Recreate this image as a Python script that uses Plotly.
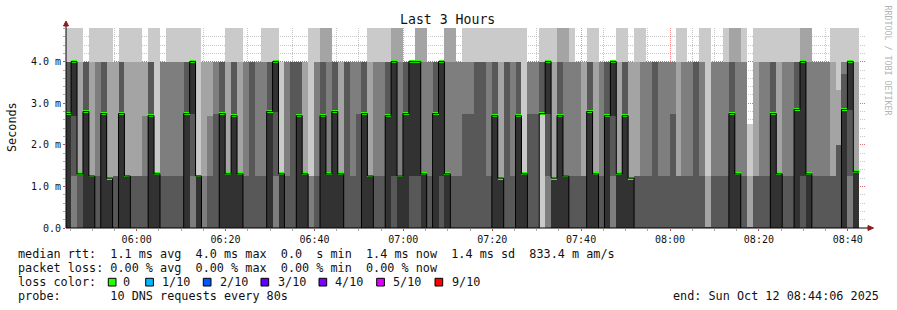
import pandas as pd
import plotly.graph_objects as go

# ---------------- data ----------------
step_start = "2025-10-12 05:43:55"      # first (partly visible) 80 s step
step_seconds = 80
T = 6.0                                  # a ping slower than the top of the axis

# sorted round-trip times (ms) of the 10 DNS requests of every step
pings = [
    [0, 0, 0, 0, 0, 2.75, 4, 4, 4, T],
    [0, 0, 0, 1.25, 2.7, 4, 4, 4, 4, T],
    [0, 0, 0, 0, 1.3, 1.3, 1.3, 1.3, 4, T],
    [0, 0, 0, 0, 0, 2.8, 4, 4, 4, 4],
    [0, 0, 0, 0, 0, 1.25, 1.25, 1.25, 4, T],
    [0, 0, 0, 0, 0, 0, 1.25, 4, 4, T],
    [0, 0, 0, 0, 0, 2.75, 4, 4, 4, T],
    [0, 0, 0, 0, 0, 1.2, 1.2, 1.2, 4, T],
    [0, 0, 0, 0, 0, 0, 1.25, 1.25, 4, 4],
    [0, 0, 0, 0, 0, 2.75, 4, 4, 4, T],
    [0, 0, 0, 0, 0, 1.25, 1.25, 1.25, 4, T],
    [0, 0, 0, 0, 0, 0, 1.25, 1.25, 4, T],
    [0, 0, 0, 0, 0, 0, 1.25, 1.25, 4, T],
    [0, 0, 0, 0, 0, 0, 1.25, 2.7, 4, 4],
    [0, 0, 0, 0, 0, 2.7, 4, 4, 4, T],
    [0, 0, 0, 0, 0, 1.3, 1.3, 1.3, 1.3, T],
    [0, 0, 0, 0, 0, 0, 1.25, 4, 4, 4],
    [0, 0, 0, 0, 0, 0, 1.25, 4, 4, T],
    [0, 0, 0, 0, 0, 0, 1.25, 4, 4, T],
    [0, 0, 0, 0, 0, 0, 1.25, 4, 4, T],
    [0, 0, 0, 0, 0, 2.75, 4, 4, 4, T],
    [0, 0, 0, 1.25, 2.75, 4, 4, 4, 4, T],
    [0, 0, 0, 0, 0, 1.25, 1.25, 1.25, 1.25, T],
    [0, 0, 0, 0, 0, 0, 0, 1.25, 4, 4],
    [0, 0, 0, 0, 0, 0, 1.25, 2.7, 4, 4],
    [0, 0, 0, 0, 0, 0, 2.75, 4, 4, 4],
    [0, 0, 0, 0, 0, 2.75, 4, 4, 4, 4],
    [0, 0, 0, 0, 0, 1.3, 1.3, 1.3, 4, T],
    [0, 0, 0, 0, 0, 2.7, 4, 4, 4, T],
    [0, 0, 0, 0, 0, 1.3, 1.3, 1.3, 4, T],
    [0, 0, 0, 0, 0, 0, 1.25, 4, 4, 4],
    [0, 0, 0, 0, 0, 0, 4, 4, 4, 4],
    [0, 0, 0, 0, 0, 0, 1.25, 4, 4, 4],
    [0, 0, 0, 0, 0, 0, 1.25, 4, 4, T],
    [0, 0, 0, 0, 0, 2.8, 4, 4, 4, T],
    [0, 0, 0, 1.25, 2.8, 4, 4, 4, 4, T],
    [0, 0, 0, 0, 0, 1.3, 1.3, 1.3, 1.3, 4],
    [0, 0, 0, 0, 0, 0, 1.25, 4, 4, 4],
    [0, 0, 0, 0, 0, 0, 4, 4, 4, 4],
    [0, 0, 0, 0, 0, 2.7, 4, 4, 4, 4],
    [0, 0, 0, 0, 0, 1.3, 1.3, 1.3, 4, 4],
    [0, 0, 0, 0, 0, 0, 0, 1.25, 1.25, T],
    [0, 0, 0, 0, 0, 0, 1.25, 4, 4, T],
    [0, 0, 0, 0, 0, 2.7, 4, 4, T, T],
    [0, 0, 0, 0, 0, 1.3, 1.3, 4, T, T],
    [0, 0, 0, 0, 0, 2.8, 4, 4, 4, 4],
    [0, 0, 0, 0, 0, 1.3, 1.3, 1.3, 4, 4],
    [0, 0, 0, 0, 0, 0, 4, 4, 4, 4],
    [0, 0, 0, 0, 0, 0, 1.25, 4, 4, 4],
    [0, 0, 0, 0, 0, 0, 2.75, 4, 4, 4],
    [0, 0, 0, 0, 0, 2.75, 4, 4, 4, 4],
    [0, 0, 0, 0, 0, 1.25, 1.25, 1.25, 4, T],
    [0, 0, 0, 0, 0, 0, 1.25, 4, 4, T],
    [0, 0, 0, 0, 0, 0, 1.25, 4, 4, T],
    [0, 0, 0, 0, 0, 2.7, 4, 4, 4, T],
    [0, 0, 0, 0, 1.25, 4, 4, 4, T, T],
    [0, 0, 0, 0, 0, 1.25, 1.25, 4, T, T],
    [0, 0, 0, 0, 0, 2.75, 4, 4, 4, 4],
    [0, 0, 0, 0, 1.25, 4, 4, 4, 4, 4],
    [0, 0, 0, 0, 1.25, 4, 4, 4, T, T],
    [0, 0, 0, 0, 0, 1.3, 1.3, 4, T, T],
    [0, 0, 0, 0, 0, 0, 1.25, 4, 4, 4],
    [0, 0, 0, 0, 0, 2.75, 4, 4, 4, 4],
    [0, 0, 0, 0, 1.25, 4, 4, 4, 4, 4],
    [0, 0, 0, 0, 0, 1.3, 1.3, 4, T, T],
    [0, 0, 0, 0, 0, 0, 1.25, 4, T, T],
    [0, 0, 0, 0, 0, 0, 1.25, 4, 4, 4],
    [0, 0, 0, 0, 0, 0, 2.75, 4, 4, T],
    [0, 0, 0, 0, 0, 0, 2.75, 4, 4, T],
    [0, 0, 0, 0, 0, 0, 4, 4, 4, T],
    [0, 0, 0, 0, 0, 0, 4, 4, 4, T],
    [0, 0, 0, 0, 0, 0, 1.25, 4, 4, T],
    [0, 0, 0, 0, 0, 2.7, 4, 4, 4, T],
    [0, 0, 0, 0, 0, 1.2, 1.2, 1.2, 4, T],
    [0, 0, 0, 0, 0, 0, 4, 4, 4, T],
    [0, 0, 0, 0, 0, 0, 1.25, 4, 4, T],
    [0, 0, 0, 0, 0, 2.7, 4, 4, 4, T],
    [0, 0, 0, 0, 0, 1.3, 1.3, 1.3, 1.3, T],
    [0, 0, 0, 0, 0, 0, 2.75, 4, 4, 4],
    [0, 0, 0, 0, 0, 0, 2.75, 4, 4, 4],
    [0, 2.75, 2.75, 2.75, 2.75, 2.75, 4, 4, 4, T],
    [0, 0, 0, 1.25, 2.75, 4, 4, 4, 4, T],
    [0, 0, 0, 0, 0, 1.2, 1.2, 1.2, 4, T],
    [0, 0, 0, 0, 0, 2.7, 4, 4, T, T],
    [0, 0, 0, 0, 0, 1.25, 1.25, 4, T, T],
    [0, 0, 0, 0, 0, 0, 1.25, 4, 4, T],
    [0, 0, 0, 0, 0, 0, 1.25, 4, 4, 4],
    [0, 0, 0, 0, 0, 0, 1.25, 1.25, 4, 4],
    [0, 0, 0, 0, 0, 2.8, 4, 4, 4, T],
    [0, 0, 0, 0, 0, 1.3, 1.3, 1.3, 4, T],
    [0, 0, 0, 0, 0, 0, 1.25, 4, 4, 4],
    [0, 0, 0, 0, 0, 2.7, 4, 4, 4, 4],
    [0, 0, 0, 1.25, 2.7, 4, 4, 4, 4, 4],
    [0, 0, 0, 0, 0, 1.3, 1.3, 1.3, 4, T],
    [0, 0, 0, 0, 0, 2.7, 4, 4, 4, T],
    [0, 0, 0, 0, 0, 1.2, 1.2, 1.2, 4, 4],
    [0, 0, 0, 0, 0, 0, 1.25, 1.25, 4, T],
    [0, 0, 0, 0, 0, 0, 1.25, 4, 4, T],
    [0, 0, 0, 0, 0, 0, 1.25, 4, 4, 4],
    [0, 0, 0, 0, 0, 0, 4, 4, 4, 4],
    [0, 0, 0, 0, 0, 0, 1.25, 4, 4, 4],
    [0, 0, 0, 0, 0, 0, 1.25, 4, 4, 4],
    [0, 0, 0, 0, 0, 0, 2.75, 4, 4, 4],
    [0, 0, 0, 0, 0, 0, 1.25, 1.25, 4, T],
    [0, 0, 0, 0, 0, 0, 1.25, 4, 4, T],
    [0, 0, 0, 0, 0, 0, 1.25, 4, 4, 4],
    [0, 0, 0, 0, 0, 0, 4, 4, 4, 4],
    [0, 0, 0, 0, 0, 0, 1.25, 4, 4, T],
    [0, 0, 0, 0, 0, 0, 0, 0, 1.25, T],
    [0, 0, 0, 0, 0, 0, 1.25, 4, 4, 4],
    [0, 0, 0, 0, 0, 0, 1.25, 4, 4, 4],
    [0, 0, 0, 0, 0, 0, 1.25, 4, 4, T],
    [0, 0, 0, 0, 0, 2.75, 4, 4, T, T],
    [0, 0, 0, 0, 0, 1.3, 1.3, 4, T, T],
    [0, 0, 0, 0, 0, 0, 1.25, 4, 4, T],
    [0, 0, 0, 0, 0, 0, 0, 0, 1.25, 2.5],
    [0, 0, 0, 0, 0, 0, 1.25, 1.25, 4, T],
    [0, 0, 0, 0, 0, 0, 1.25, 4, 4, T],
    [0, 0, 0, 0, 0, 0, 1.25, 4, 4, T],
    [0, 0, 0, 0, 0, 2.75, 4, 4, 4, T],
    [0, 0, 0, 0, 0, 1.3, 1.3, 1.3, 4, T],
    [0, 0, 0, 0, 0, 0, 1.25, 4, 4, T],
    [0, 0, 0, 0, 0, 0, 1.25, 4, 4, T],
    [0, 0, 0, 0, 0, 2.85, 4, 4, 4, T],
    [0, 0, 0, 0, 1.25, 4, 4, 4, T, T],
    [0, 0, 0, 0, 0, 1.3, 1.3, 4, T, T],
    [0, 0, 0, 0, 0, 0, 1.25, 4, 4, 4],
    [0, 0, 0, 0, 0, 0, 1.25, 4, 4, 4],
    [0, 0, 0, 0, 0, 0, 1.25, 4, 4, 4],
    [0, 0, 0, 0, 0, 0, 1.25, 1.25, 4, T],
    [0, 0, 0, 0, 0, 0, 2.0, 2.0, 3.33, T],
    [0, 0, 0, 0, 0, 2.85, 3.7, 4, 4, T],
    [0, 0, 0, 1.25, 2.85, 4, 4, 4, 4, T],
    [0, 0, 0, 0, 0, 1.35, 1.35, 1.35, 4, T],
]

x_range = ["2025-10-12 05:44:06", "2025-10-12 08:44:06"]
y_max = 4.81
y_tickvals = [0, 1, 2, 3, 4]
y_ticktext = ["0.0", "1.0 m", "2.0 m", "3.0 m", "4.0 m"]

legend_lines = [
    "median rtt:  1.1 ms avg  4.0 ms max  0.0  s min  1.4 ms now  1.4 ms sd  833.4 m am/s",
    "packet loss: 0.00 % avg  0.00 % max  0.00 % min  0.00 % now",
]
loss_labels = ["0", "1/10", "2/10", "3/10", "4/10", "5/10", "9/10"]
loss_colors = ["#26ff00", "#00b8ff", "#0059ff", "#5e00ff", "#7e00ff", "#dd00ff", "#ff0000"]
probe_text = "probe:       10 DNS requests every 80s"
end_text = "end: Sun Oct 12 08:44:06 2025"
title_text = "Last 3 Hours"

# smoke shades, outermost pair of pings -> innermost pair
smoke_colors = ["#cacaca", "#a4a4a4", "#7e7e7e", "#585858", "#323232"]

# ---------------- figure ----------------
W, H = 897, 310
L, R, TOP, BOT = 66, 866, 28, 228   # plot area in pixels


def px(x):
    return (x - L) / (R - L)


def py(y):
    return (BOT - y) / (BOT - TOP)


n = len(pings)
starts = pd.date_range(step_start, periods=n + 1, freq=f"{step_seconds}s")
centers = starts[:-1] + pd.Timedelta(seconds=step_seconds / 2)
width_ms = step_seconds * 1000
median = [p[5] for p in pings]

fig = go.Figure()
for i, col in enumerate(smoke_colors):
    base = [p[i] for p in pings]
    top = [p[9 - i] for p in pings]
    fig.add_trace(go.Bar(
        x=centers, base=base, y=[t - b for t, b in zip(top, base)],
        width=width_ms, marker=dict(color=col, line=dict(width=0)),
        hoverinfo="skip", showlegend=False))

fig.add_trace(go.Scatter(
    x=list(starts), y=median + [median[-1]], mode="lines",
    line=dict(color="#000000", width=1, shape="hv"),
    hoverinfo="skip", showlegend=False))

mh = 0.07
fig.add_trace(go.Bar(
    x=centers, base=[m - mh / 2 for m in median], y=[mh] * n,
    width=width_ms, marker=dict(color=loss_colors[0], line=dict(width=0)),
    hoverinfo="skip", showlegend=False))

mono = "DejaVu Sans Mono"
fig.update_layout(
    width=W, height=H, margin=dict(l=L, r=W - R, t=TOP, b=H - BOT),
    paper_bgcolor="white", plot_bgcolor="white",
    barmode="overlay", bargap=0, showlegend=False,
    font=dict(family=mono, size=10, color="#111111"),
    xaxis=dict(
        type="date", range=x_range, tick0="2025-10-12 06:00:00", dtick=20 * 60 * 1000,
        tickformat="%H:%M", showgrid=True, gridcolor="rgba(255,0,0,0.45)",
        griddash="1px,1px", gridwidth=1, zeroline=False, showline=False,
        ticks="outside", ticklen=2, tickcolor="#c05050",
        minor=dict(dtick=5 * 60 * 1000, showgrid=True, gridcolor="rgba(175,175,175,0.7)",
                   griddash="1px,1px", ticks="outside", ticklen=2, tickcolor="#aaaaaa"),
        layer="above traces", fixedrange=True,
        tickfont=dict(family=mono, size=10, color="#111111"),
    ),
    yaxis=dict(
        range=[0, y_max], tickvals=y_tickvals, ticktext=y_ticktext,
        showgrid=True, gridcolor="rgba(255,0,0,0.45)", griddash="1px,1px",
        zeroline=False, showline=False, ticks="outside", ticklen=2, tickcolor="#c05050",
        minor=dict(dtick=0.2, showgrid=True, gridcolor="rgba(175,175,175,0.7)",
                   griddash="1px,1px", ticks="outside", ticklen=2, tickcolor="#aaaaaa"),
        layer="above traces", fixedrange=True,
        tickfont=dict(family=mono, size=10, color="#111111"),
    ),
)

shapes = [
    # axes with arrow heads
    dict(type="line", xref="paper", yref="paper", x0=px(66), x1=px(869), y0=0, y1=0,
         line=dict(color="#000000", width=1)),
    dict(type="line", xref="paper", yref="paper", x0=0, x1=0, y0=0, y1=py(25),
         line=dict(color="#000000", width=1)),
    dict(type="path", xref="paper", yref="paper",
         path=f"M {px(868)} {py(225.5)} L {px(873.5)} {py(228)} L {px(868)} {py(230.5)} Z",
         fillcolor="#8b1c1c", line=dict(color="#8b1c1c", width=1)),
    dict(type="path", xref="paper", yref="paper",
         path=f"M {px(63.5)} {py(26)} L {px(66)} {py(21)} L {px(68.5)} {py(26)} Z",
         fillcolor="#8b1c1c", line=dict(color="#8b1c1c", width=1)),
]
box_x = [108.3, 145.7, 203.3, 261.0, 319.0, 376.7, 435.0]
label_x = [120.7, 160.0, 218.3, 276.0, 333.3, 391.0, 450.0]
for bx, c in zip(box_x, loss_colors):
    shapes.append(dict(type="rect", xref="paper", yref="paper",
                       x0=px(bx), x1=px(bx + 7.7), y0=py(286), y1=py(278.3),
                       fillcolor=c, line=dict(color="#000000", width=1)))

ann = []


def text(x, y, s, size=11.8, anchor="left", color="#111111", angle=0):
    ann.append(dict(x=px(x), y=py(y), xref="paper", yref="paper", text=s,
                    showarrow=False, xanchor=anchor, yanchor="middle", textangle=angle,
                    font=dict(family=mono, size=size, color=color)))


text(447.5, 19.5, title_text, size=13.2, anchor="center")
text(12, 127, "Seconds", size=11.8, anchor="center", angle=-90)
text(887.5, 60, "RRDTOOL / TOBI OETIKER", size=8.3, anchor="center", color="#b4b4b4", angle=90)
text(16, 254, legend_lines[0].replace(" ", "&nbsp;"))
text(16, 268, legend_lines[1].replace(" ", "&nbsp;"))
text(16, 282, "loss color:")
for lx, lab in zip(label_x, loss_labels):
    text(lx, 282, lab)
text(16, 296, probe_text.replace(" ", "&nbsp;"))
text(881, 296, end_text, anchor="right")

fig.update_layout(shapes=shapes, annotations=ann)
fig.write_html("out.html")
